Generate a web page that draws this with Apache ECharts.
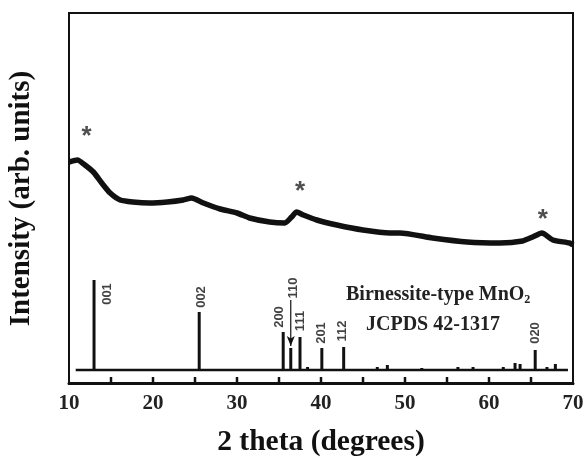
<!DOCTYPE html>
<html>
<head>
<meta charset="utf-8">
<script src="https://cdn.jsdelivr.net/npm/echarts@6/dist/echarts.min.js"></script>
<style>
html, body { margin: 0; padding: 0; background: #fff; }
#chart { width: 587px; height: 460px; }
</style>
</head>
<body>
<div id="chart"></div>
<script>
// measured XRD scan (2 theta, intensity in arbitrary units)
var scanTheta = [10, 11, 11.9, 12.9, 13.9, 14.9, 16.1, 17.6, 19.6, 21.7, 23.6, 24.6, 26, 28, 30, 31.5, 33.9, 35.7, 36.5, 37.1, 37.9, 39.5, 41.9, 45, 48.2, 49.4, 53.3, 57.4, 61.3, 64, 65.2, 66.3, 67.6, 69.6, 70];
var scanIntensity = [208, 210, 205, 198, 187, 177, 170, 168, 167, 168, 170, 172, 167, 161, 157, 152, 148, 147, 153, 158, 155, 150, 145, 140, 137, 137, 132, 128, 127, 129, 133, 137, 130, 127, 125];

// JCPDS 42-1317 reference sticks
var refTheta = [12.98, 25.5, 35.5, 36.4, 37.5, 38.4, 40.1, 42.7, 46.7, 47.9, 52, 56.3, 58.1, 61.7, 63.1, 63.7, 65.5, 66.9, 67.9];
var refHeight = [90, 58, 38, 22, 33, 3, 22, 23, 3, 5, 2, 3, 3, 3, 7, 6, 20, 3, 6];
var refBase = [10.8, 69.4];

// hkl labels (x, y of label centre)
var hklText = ['001', '002', '200', '110', '111', '201', '112', '020'];
var hklTheta = [14.6, 25.8, 35.1, 36.7, 37.6, 40.1, 42.6, 65.5];
var hklPos = [76, 73, 53, 82, 49, 37, 39, 37];

// arrow from the 110 label to its stick
var arrowTheta = 36.4;
var arrowFrom = 70;
var arrowTo = 24;

// asterisks over the broad peaks
var starTheta = [12.1, 37.5, 66.4];
var starPos = [240, 185, 157];

var xTicks = [10, 20, 30, 40, 50, 60, 70];
var xTickMarks = [15, 20, 25, 30, 35, 40, 45, 50, 55, 60, 65];

var chart = echarts.init(document.getElementById('chart'));

var serif = 'Liberation Serif, Times New Roman, serif';
var narrow = 'Liberation Sans Narrow, Liberation Sans, Arial, sans-serif';

chart.setOption({
    backgroundColor: '#fff',
    animation: false,
    grid: {
        left: 69, right: 14, top: 13, bottom: 76,
        outerBoundsMode: 'none',
        show: true,
        borderColor: '#111',
        borderWidth: 2
    },
    xAxis: {
        type: 'value',
        min: 10, max: 70, interval: 5,
        name: '2 theta (degrees)',
        nameLocation: 'middle',
        nameGap: 43,
        nameTextStyle: { fontFamily: serif, fontWeight: 'bold', fontSize: 29.5, color: '#111' },
        axisLine: { show: true, onZeroAxisIndex: 0, lineStyle: { color: '#111', width: 3 } },
        axisTick: { show: false },
        axisLabel: {
            fontFamily: serif, fontWeight: 'bold', fontSize: 21, color: '#222', margin: 9,
            formatter: function (v) { return xTicks.indexOf(v) >= 0 ? String(v) : ''; }
        },
        splitLine: { show: false }
    },
    yAxis: [
        {
            // frame axis: zero just above the frame bottom so the x axis sits there
            type: 'value',
            min: -1, max: 371,
            name: 'Intensity (arb. units)',
            nameLocation: 'middle',
            nameGap: 33,
            nameTextStyle: { fontFamily: serif, fontWeight: 'bold', fontSize: 29, color: '#111' },
            axisLine: { show: true, onZero: false, lineStyle: { color: '#111', width: 2 } },
            axisTick: { show: false },
            axisLabel: { show: false },
            splitLine: { show: false }
        },
        {
            // data axis: stick baseline at 0
            type: 'value',
            position: 'left',
            min: -14, max: 357,
            show: false,
            splitLine: { show: false }
        }
    ],
    graphic: [
        {
            type: 'text', left: 346, top: 285,
            style: {
                text: 'Birnessite-type MnO{sub|2}',
                font: 'bold 20px ' + serif,
                fill: '#222',
                rich: { sub: { fontSize: 12, fontWeight: 'bold', fontFamily: serif, verticalAlign: 'bottom', padding: [10, 0, 0, 0] } }
            }
        },
        {
            type: 'text', left: 366, top: 315,
            style: { text: 'JCPDS 42-1317', font: 'bold 20px ' + serif, fill: '#222' }
        }
    ],
    series: [
        {
            // inward tick marks on the bottom axis
            type: 'custom',
            yAxisIndex: 0,
            data: xTickMarks.map(function (t) { return [t, 0]; }),
            silent: true,
            renderItem: function (params, api) {
                var p = api.coord([api.value(0), 0]);
                return {
                    type: 'line',
                    shape: { x1: p[0], y1: p[1], x2: p[0], y2: p[1] - 6 },
                    style: { stroke: '#111', lineWidth: 2.5 }
                };
            }
        },
        {
            type: 'line',
            yAxisIndex: 1,
            data: scanTheta.map(function (t, i) { return [t, scanIntensity[i]]; }),
            smooth: 0.2,
            showSymbol: false,
            lineStyle: { color: '#111', width: 5.5 }
        },
        {
            type: 'line',
            yAxisIndex: 1,
            data: refBase.map(function (t) { return [t, 0]; }),
            showSymbol: false,
            lineStyle: { color: '#111', width: 2.5 }
        },
        {
            type: 'bar',
            yAxisIndex: 1,
            data: refTheta.map(function (t, i) { return [t, refHeight[i]]; }),
            barWidth: 3,
            itemStyle: { color: '#111' }
        },
        {
            type: 'line',
            yAxisIndex: 1,
            data: [
                { value: [arrowTheta, arrowFrom], symbol: 'none' },
                { value: [arrowTheta, arrowTo], symbol: 'arrow', symbolSize: [6, 10], symbolRotate: 180 }
            ],
            showSymbol: true,
            lineStyle: { color: '#111', width: 1.2 },
            itemStyle: { color: '#111' }
        },
        {
            type: 'scatter',
            yAxisIndex: 1,
            data: hklTheta.map(function (t, i) { return [t, hklPos[i], hklText[i]]; }),
            symbolSize: 0,
            label: {
                show: true,
                position: 'inside',
                rotate: 90,
                formatter: function (p) { return p.value[2]; },
                fontFamily: narrow, fontWeight: 'bold', fontSize: 13, color: '#111'
            }
        },
        {
            type: 'scatter',
            yAxisIndex: 1,
            data: starTheta.map(function (t, i) { return [t, starPos[i]]; }),
            symbolSize: 0,
            label: {
                show: true,
                position: 'inside',
                formatter: '*',
                fontFamily: 'Liberation Sans, sans-serif', fontWeight: 'bold', fontSize: 26, color: '#222',
                offset: [0, 7]
            }
        }
    ]
});
</script>
</body>
</html>
